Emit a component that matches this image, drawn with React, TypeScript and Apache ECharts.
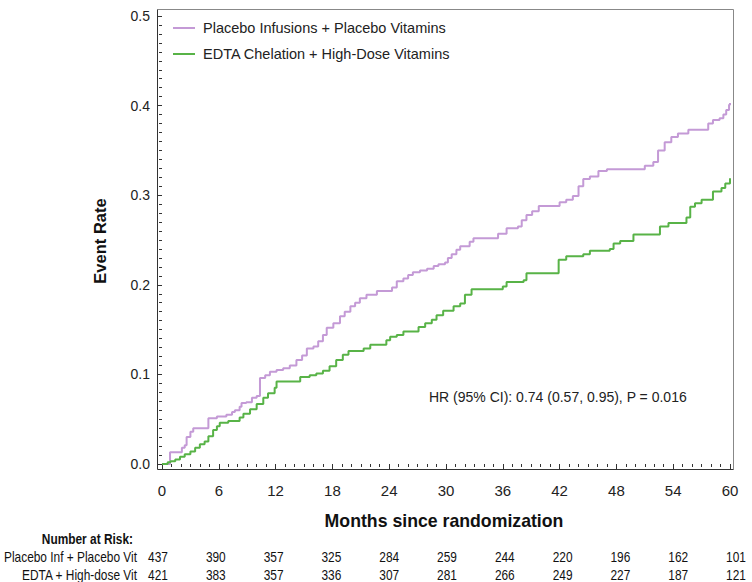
import React, { useEffect, useRef } from "react";
import * as echarts from "echarts";

// ---- Data ----
const seriesNames = [
  "Placebo Infusions + Placebo Vitamins",
  "EDTA Chelation + High-Dose Vitamins",
];
const seriesColors = ["#c49ad6", "#58b347"];

// Placebo: time of each step (months) and cumulative event rate after the step
const placeboTimes = [
  0, 0.85, 2.1, 2.4, 2.6, 3.0, 3.3, 4.9, 5.8, 6.8, 7.4, 7.7, 8.2, 8.4, 8.9, 9.5,
  10.0, 10.35, 10.9, 11.4, 12.1, 12.8, 13.5, 14.2, 14.8, 15.3, 16.0, 16.5, 17.0,
  17.4, 18.1, 18.8, 19.3, 19.9, 20.4, 20.9, 21.6, 22.7, 24.3, 24.8, 25.5, 26.0,
  26.5, 27.25, 28.0, 28.7, 29.2, 29.9, 30.2, 30.6, 31.1, 31.5, 32.5, 32.9, 35.5,
  36.4, 37.6, 38.0, 38.5, 39.1, 39.8, 42.0, 42.7, 43.4, 44.0, 44.5, 45.2, 46.1,
  47.0, 51.0, 51.9, 52.4, 53.1, 53.8, 54.5, 55.6, 57.7, 58.2, 58.9, 59.3, 59.6,
  59.9, 60.0,
];
const placeboRates = [
  0, 0.013, 0.018, 0.021, 0.03, 0.036, 0.04, 0.051, 0.053, 0.055, 0.058, 0.06,
  0.064, 0.068, 0.069, 0.074, 0.076, 0.096, 0.099, 0.103, 0.105, 0.107, 0.11,
  0.116, 0.121, 0.129, 0.131, 0.137, 0.144, 0.152, 0.157, 0.165, 0.17, 0.176,
  0.18, 0.185, 0.189, 0.193, 0.197, 0.204, 0.207, 0.211, 0.214, 0.216, 0.218,
  0.221, 0.223, 0.225, 0.23, 0.234, 0.239, 0.243, 0.248, 0.252, 0.257, 0.263,
  0.265, 0.272, 0.278, 0.282, 0.288, 0.292, 0.295, 0.299, 0.31, 0.318, 0.321,
  0.327, 0.329, 0.333, 0.337, 0.35, 0.359, 0.365, 0.369, 0.373, 0.38, 0.384,
  0.386, 0.39, 0.395, 0.401, 0.403,
];

// EDTA: time of each step (months) and cumulative event rate after the step
const edtaTimes = [
  0, 0.6, 0.9, 1.4, 1.9, 2.4, 3.0, 3.5, 4.0, 4.5, 4.9, 5.4, 5.8, 6.1, 7.0, 8.2,
  8.6, 9.3, 10.0, 10.7, 11.2, 11.9, 12.1, 14.6, 15.6, 16.3, 17.0, 17.7, 18.4,
  19.1, 19.7, 21.3, 22.0, 23.7, 24.1, 24.8, 25.5, 27.1, 27.8, 28.5, 29.0, 29.7,
  30.8, 31.5, 32.0, 32.7, 36.0, 36.4, 38.2, 38.5, 41.9, 42.7, 44.5, 45.2, 47.3,
  47.7, 48.4, 49.8, 52.6, 53.5, 55.4, 55.8, 56.3, 57.0, 58.2, 59.1, 59.5, 60.0,
];
const edtaRates = [
  0, 0.002, 0.003, 0.005, 0.008, 0.011, 0.014, 0.018, 0.022, 0.025, 0.031, 0.038,
  0.042, 0.046, 0.048, 0.052, 0.056, 0.061, 0.067, 0.074, 0.079, 0.085, 0.092,
  0.097, 0.099, 0.101, 0.104, 0.109, 0.116, 0.122, 0.126, 0.129, 0.133, 0.138,
  0.142, 0.144, 0.148, 0.153, 0.157, 0.161, 0.166, 0.171, 0.176, 0.179, 0.189,
  0.195, 0.198, 0.203, 0.205, 0.213, 0.228, 0.232, 0.234, 0.238, 0.24, 0.246,
  0.249, 0.256, 0.265, 0.269, 0.275, 0.287, 0.291, 0.295, 0.304, 0.308, 0.313,
  0.319,
];

// Number at risk table
const riskTitle = "Number at Risk:";
const riskRowLabels = ["Placebo Inf + Placebo Vit", "EDTA + High-dose Vit"];
const placeboAtRisk = [437, 390, 357, 325, 284, 259, 244, 220, 196, 162, 101];
const edtaAtRisk = [421, 383, 357, 336, 307, 281, 266, 249, 227, 187, 121];

const hrText = "HR (95% CI): 0.74 (0.57, 0.95), P = 0.016";
const xTitle = "Months since randomization";
const yTitle = "Event Rate";

const FONT = "'Liberation Sans', Arial, Helvetica, sans-serif";

export default function App() {
  const ref = useRef<HTMLDivElement>(null);

  useEffect(() => {
    if (!ref.current) return;
    const chart = echarts.init(ref.current, null, { renderer: "svg" });

    const zip = (t: number[], v: number[]) => t.map((x, i) => [x, v[i]]);

    // layout of the risk table (text positions, not data marks)
    const tableX0 = 158;
    const tableDx = 57.8;
    const rowY = [557, 575];
    const narrow = 0.85;
    const tableFont = 14;

    const tableTexts: any[] = [];
    tableTexts.push({
      type: "text",
      x: 133,
      y: 539,
      scaleX: narrow,
      style: {
        text: riskTitle,
        fontSize: tableFont,
        fontWeight: "bold",
        fontFamily: FONT,
        fill: "#111",
        align: "right",
        verticalAlign: "middle",
      },
    });
    riskRowLabels.forEach((lab, r) => {
      tableTexts.push({
        type: "text",
        x: 137,
        y: rowY[r],
        scaleX: narrow,
        style: {
          text: lab,
          fontSize: tableFont,
          fontFamily: FONT,
          fill: "#111",
          align: "right",
          verticalAlign: "middle",
        },
      });
    });
    [placeboAtRisk, edtaAtRisk].forEach((row, r) => {
      row.forEach((n, i) => {
        tableTexts.push({
          type: "text",
          x: tableX0 + tableDx * i,
          y: rowY[r],
          scaleX: narrow,
          style: {
            text: String(n),
            fontSize: tableFont,
            fontFamily: FONT,
            fill: "#111",
            align: "center",
            verticalAlign: "middle",
          },
        });
      });
    });

    const option: any = {
      animation: false,
      backgroundColor: "#ffffff",
      grid: { left: 162, right: 22, top: 16, bottom: 118, containLabel: false },
      legend: {
        orient: "vertical",
        left: 168,
        top: 15,
        icon: "rect",
        itemWidth: 22,
        itemHeight: 2,
        itemGap: 10,
        data: seriesNames,
        textStyle: {
          fontSize: 14.5,
          lineHeight: 16,
          color: "#222",
          fontFamily: FONT,
          padding: [0, 0, 0, 3],
        },
      },
      xAxis: {
        type: "value",
        min: 0,
        max: 60,
        interval: 6,
        offset: 5,
        axisLine: { show: false },
        axisTick: { show: true, length: 6, lineStyle: { color: "#333" } },
        minorTick: { show: true, splitNumber: 6, length: 3, lineStyle: { color: "#333" } },
        splitLine: { show: false },
        minorSplitLine: { show: false },
        axisLabel: { margin: 14, fontSize: 15, color: "#222", fontFamily: FONT },
      },
      yAxis: {
        type: "value",
        min: 0,
        max: 0.5,
        interval: 0.1,
        offset: 5,
        axisLine: { show: false },
        axisTick: { show: true, length: 5, lineStyle: { color: "#333" } },
        minorTick: { show: true, splitNumber: 10, length: 3, lineStyle: { color: "#333" } },
        splitLine: { show: false },
        minorSplitLine: { show: false },
        axisLabel: {
          margin: 7,
          fontSize: 14,
          color: "#222",
          fontFamily: FONT,
          formatter: (v: number) => v.toFixed(1),
        },
      },
      series: [
        {
          name: seriesNames[0],
          type: "line",
          step: "end",
          symbol: "none",
          data: zip(placeboTimes, placeboRates),
          lineStyle: { color: seriesColors[0], width: 2 },
          itemStyle: { color: seriesColors[0] },
          z: 3,
        },
        {
          name: seriesNames[1],
          type: "line",
          step: "end",
          symbol: "none",
          data: zip(edtaTimes, edtaRates),
          lineStyle: { color: seriesColors[1], width: 2 },
          itemStyle: { color: seriesColors[1] },
          z: 4,
        },
      ],
      graphic: [
        { type: "line", shape: { x1: 157.5, y1: 9.5, x2: 733.5, y2: 9.5 }, style: { stroke: "#888", lineWidth: 1 } },
        { type: "line", shape: { x1: 733.5, y1: 9.5, x2: 733.5, y2: 469.5 }, style: { stroke: "#888", lineWidth: 1 } },
        { type: "line", shape: { x1: 157.5, y1: 9.5, x2: 157.5, y2: 469.5 }, style: { stroke: "#333", lineWidth: 1 } },
        { type: "line", shape: { x1: 157.5, y1: 469.5, x2: 733.5, y2: 469.5 }, style: { stroke: "#333", lineWidth: 1 } },
        {
          type: "text",
          x: 429,
          y: 397,
          style: { text: hrText, fontSize: 14, fontFamily: FONT, fill: "#222", align: "left", verticalAlign: "middle" },
        },
        {
          type: "text",
          x: 444,
          y: 521,
          style: { text: xTitle, fontSize: 17.7, fontWeight: "bold", fontFamily: FONT, fill: "#111", align: "center", verticalAlign: "middle" },
        },
        {
          type: "text",
          x: 100,
          y: 241,
          rotation: Math.PI / 2,
          style: { text: yTitle, fontSize: 16.5, fontWeight: "bold", fontFamily: FONT, fill: "#111", align: "center", verticalAlign: "middle" },
        },
        ...tableTexts,
      ],
    };

    chart.setOption(option);
    return () => chart.dispose();
  }, []);

  return (
    <div
      ref={ref}
      style={{ position: "fixed", left: 0, top: 0, width: 752, height: 582, background: "#fff" }}
    />
  );
}
